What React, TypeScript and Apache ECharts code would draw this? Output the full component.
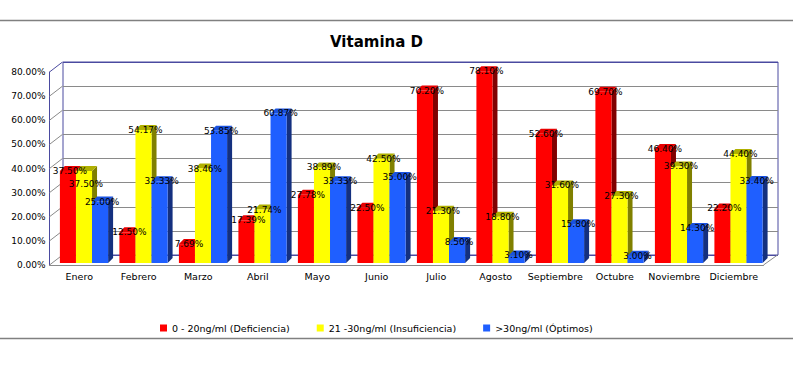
import React, { useEffect, useRef } from "react";
import * as echarts from "echarts";

const months = ["Enero", "Febrero", "Marzo", "Abril", "Mayo", "Junio", "Julio", "Agosto", "Septiembre", "Octubre", "Noviembre", "Diciembre"];
const deficiencia = [37.5, 12.5, 7.69, 17.39, 27.78, 22.5, 70.2, 78.1, 52.6, 69.7, 46.4, 22.2];
const insuficiencia = [37.5, 54.17, 38.46, 21.74, 38.89, 42.5, 21.3, 18.8, 31.6, 27.3, 39.3, 44.4];
const optimos = [25.0, 33.33, 53.85, 60.87, 33.33, 35.0, 8.5, 3.1, 15.8, 3.0, 14.3, 33.4];
const seriesNames = ["0 - 20ng/ml (Deficiencia)", "21 -30ng/ml (Insuficiencia)", ">30ng/ml (Óptimos)"];
const yTicks = [0, 10, 20, 30, 40, 50, 60, 70, 80];

const allSeries = [deficiencia, insuficiencia, optimos];
const frontColors = ["#ff0000", "#ffff00", "#1f5fff"];
const topColors = ["#e80000", "#b0b000", "#1a52e0"];
const sideColors = ["#800000", "#808000", "#14307f"];
const FONT = "DejaVu Sans";
const WALL = "#4a4aa0";
const GRID = "#8a8a8a";

export default function App() {
  const ref = useRef<HTMLDivElement>(null);
  useEffect(() => {
    if (!ref.current) return;
    const chart = echarts.init(ref.current, null, { renderer: "svg" });

    const barSeries = allSeries.map((vals, s) => ({
      type: "custom",
      name: seriesNames[s],
      xAxisIndex: 2,
      yAxisIndex: 2,
      z: 3,
      itemStyle: { color: frontColors[s] },
      data: vals.map((v, i) => [i, v]),
      renderItem: (params: any, api: any) => {
        const idx = api.value(0);
        const v = api.value(1);
        const [cx, base] = api.coord([idx, 0]);
        const top = api.coord([idx, v])[1];
        const band = api.size([1, 0])[0];
        const w = band * 0.27;
        const x0 = cx - 1.5 * w + s * w;
        const dx = 5;
        const dy = 5;
        const prev = s > 0 ? allSeries[s - 1][idx] : null;
        const shift = prev !== null && prev === v ? 13 : 0;
        return {
          type: "group",
          children: [
            {
              type: "polygon",
              z2: s * 10 + 1,
              shape: { points: [[x0 + w, top], [x0 + w + dx, top - dy], [x0 + w + dx, base - dy], [x0 + w, base]] },
              style: { fill: sideColors[s] },
            },
            {
              type: "polygon",
              z2: s * 10 + 2,
              shape: { points: [[x0, top], [x0 + dx, top - dy], [x0 + w + dx, top - dy], [x0 + w, top]] },
              style: { fill: topColors[s] },
            },
            {
              type: "rect",
              z2: s * 10 + 3,
              shape: { x: x0, y: top, width: w, height: base - top },
              style: { fill: frontColors[s] },
            },
            {
              type: "text",
              z2: 100,
              style: {
                text: v.toFixed(2) + "%",
                x: x0 + w / 2 + 2,
                y: top + shift,
                align: "center",
                verticalAlign: "middle",
                fontSize: 9,
                fontFamily: FONT,
                fill: "#000",
              },
            },
          ],
        };
      },
    }));

    const slantSeries = {
      type: "custom",
      xAxisIndex: 0,
      yAxisIndex: 0,
      z: 1,
      silent: true,
      data: yTicks.map((t) => [0, t]),
      renderItem: (params: any, api: any) => {
        const t = api.value(1);
        const y = api.coord([0, t])[1];
        const x = params.coordSys.x;
        const color = t === yTicks[yTicks.length - 1] ? WALL : GRID;
        const children: any[] = [
          { type: "line", shape: { x1: x, y1: y, x2: x + 13, y2: y - 10 }, style: { stroke: color, lineWidth: 1 } },
        ];
        if (t === 0) {
          const xr = params.coordSys.x + params.coordSys.width;
          children.push({ type: "line", shape: { x1: xr, y1: y, x2: xr + 14, y2: y - 10 }, style: { stroke: GRID, lineWidth: 1 } });
        }
        return { type: "group", children };
      },
    };

    chart.setOption({
      animation: false,
      backgroundColor: "#ffffff",
      title: {
        text: "Vitamina D",
        left: 325,
        top: 29,
        textStyle: { fontFamily: FONT, fontWeight: "bold", fontSize: 15, color: "#000" },
      },
      legend: {
        data: seriesNames,
        left: 155,
        top: 318,
        icon: "rect",
        itemWidth: 7,
        itemHeight: 7,
        itemGap: 27,
        textStyle: { fontFamily: FONT, fontSize: 9.5, color: "#000" },
      },
      grid: [
        { left: 49.5, top: 72, width: 714, height: 193 },
        { left: 63, top: 62, width: 715, height: 193, show: true, borderColor: WALL, borderWidth: 1, backgroundColor: "transparent" },
        { left: 54.25, top: 66.5, width: 714, height: 196.5 },
      ],
      xAxis: [
        {
          gridIndex: 0,
          type: "category",
          data: months,
          axisLine: { show: true, lineStyle: { color: GRID } },
          axisTick: { show: false },
          axisLabel: { fontFamily: FONT, fontSize: 9.5, color: "#000", margin: 6, interval: 0 },
        },
        { gridIndex: 1, type: "category", data: months, show: false },
        { gridIndex: 2, type: "category", data: months, show: false },
      ],
      yAxis: [
        {
          gridIndex: 0,
          type: "value",
          min: 0,
          max: 80,
          interval: 10,
          axisLine: { show: true, lineStyle: { color: WALL } },
          axisTick: { show: false },
          splitLine: { show: false },
          axisLabel: { fontFamily: FONT, fontSize: 9, color: "#000", margin: 4, formatter: (v: number) => v.toFixed(2) + "%" },
        },
        {
          gridIndex: 1,
          type: "value",
          min: 0,
          max: 80,
          interval: 10,
          axisLine: { show: false },
          axisTick: { show: false },
          axisLabel: { show: false },
          splitLine: { show: true, lineStyle: { color: [WALL, GRID, GRID, GRID, GRID, GRID, GRID, GRID, WALL], width: 1 } },
        },
        { gridIndex: 2, type: "value", min: 0, max: 80, show: false, splitLine: { show: false } },
      ],
      graphic: [
        { type: "line", shape: { x1: 0, y1: 20.5, x2: 793, y2: 20.5 }, style: { stroke: "#808080", lineWidth: 1.5 } },
        { type: "line", shape: { x1: 0, y1: 338.5, x2: 793, y2: 338.5 }, style: { stroke: "#808080", lineWidth: 1.5 } },
      ],
      series: [slantSeries, ...barSeries],
    });
    return () => chart.dispose();
  }, []);
  return <div ref={ref} style={{ position: "fixed", left: 0, top: 0, width: 793, height: 374 }} />;
}
